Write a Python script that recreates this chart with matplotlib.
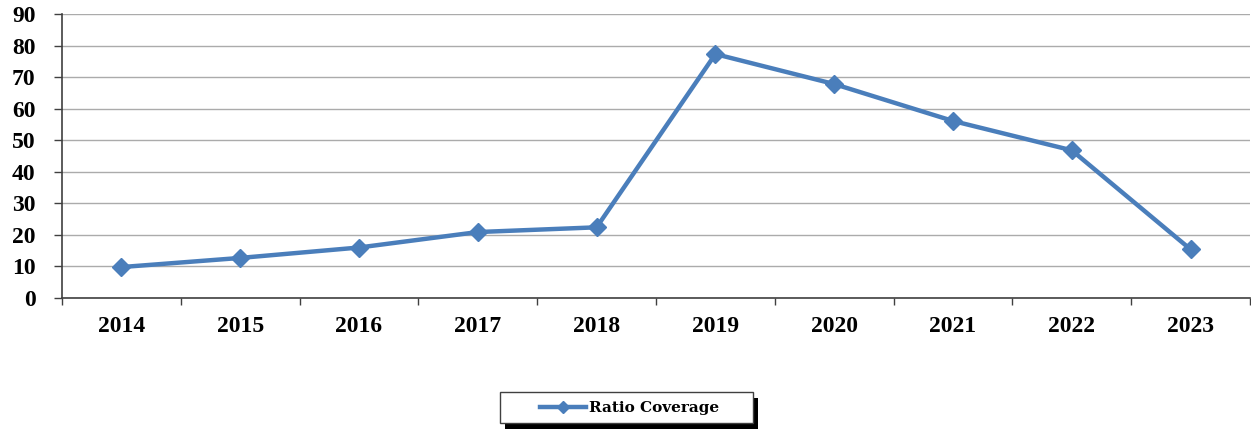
import matplotlib
matplotlib.use("Agg")
import matplotlib.pyplot as plt
from matplotlib.patches import Rectangle
import numpy as np

years = ["2014", "2015", "2016", "2017", "2018", "2019", "2020", "2021", "2022", "2023"]
ratio_coverage = [9.8, 12.7, 16.0, 20.9, 22.4, 77.3, 67.8, 56.1, 46.8, 15.4]
yticks = [0, 10, 20, 30, 40, 50, 60, 70, 80, 90]
series_label = "Ratio Coverage"

W, H = 1251, 429
fig = plt.figure(figsize=(W / 100, H / 100), dpi=100)
ax = fig.add_axes([62 / W, 1 - 298 / H, (1250 - 62) / W, (298 - 14) / H])

x = np.arange(len(years))
color = "#4A7EBB"
ax.plot(x, ratio_coverage, color=color, lw=3.2, marker="D", markersize=9,
        markerfacecolor=color, markeredgecolor=color, label=series_label,
        zorder=3, clip_on=False)

ax.set_xlim(-0.5, len(years) - 0.5)
ax.set_ylim(0, 90)
ax.yaxis.grid(True, color="#ABABAB", lw=1)
ax.set_axisbelow(True)

tick_font = dict(family="Liberation Serif", weight="bold", size=17)
ax.set_yticks(yticks)
ax.set_yticklabels([str(v) for v in yticks], **tick_font)
ax.tick_params(axis="y", length=6, width=1, color="#404040", pad=13)

ax.set_xticks(np.arange(-0.5, len(years), 1.0))
ax.set_xticklabels([])
ax.tick_params(axis="x", which="major", length=5, width=1, color="#404040", direction="out")
ax.set_xticks(x, minor=True)
ax.set_xticklabels(years, minor=True, **tick_font)
ax.tick_params(axis="x", which="minor", length=0, pad=13)

for s in ["top", "right"]:
    ax.spines[s].set_visible(False)
for s in ["left", "bottom"]:
    ax.spines[s].set_color("#404040")
    ax.spines[s].set_linewidth(1.2)

# legend frame with shadow (pixel layout)
box_l, box_r, box_t, box_b = 500, 753, 392, 423
off_x, off_y = 5, 6
fig.patches.append(Rectangle(((box_l + off_x) / W, 1 - (box_b + off_y) / H),
                             (box_r - box_l) / W, (box_b - box_t) / H,
                             transform=fig.transFigure, facecolor="black",
                             edgecolor="none", zorder=1))
fig.patches.append(Rectangle((box_l / W, 1 - box_b / H),
                             (box_r - box_l) / W, (box_b - box_t) / H,
                             transform=fig.transFigure, facecolor="white",
                             edgecolor="#404040", lw=1, zorder=2))

leg = fig.legend(loc="center", bbox_to_anchor=(630 / W, 1 - 408 / H),
                 prop=dict(family="DejaVu Serif", weight="bold", size=11),
                 frameon=False, handlelength=2.95, handletextpad=0.25,
                 markerscale=0.7, borderpad=0.2)
leg.set_zorder(5)

fig.savefig("out.png", dpi=100)
